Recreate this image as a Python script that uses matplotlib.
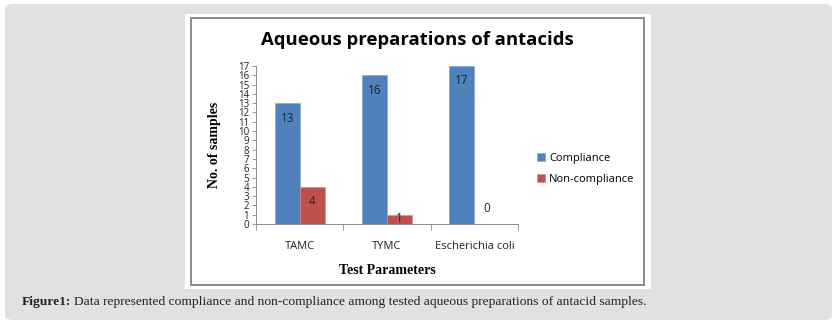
import numpy as np
import matplotlib.pyplot as plt
from matplotlib.patches import FancyBboxPatch, Rectangle

# chart data
categories = ["TAMC", "TYMC", "Escherichia coli"]
compliance = [13, 16, 17]
non_compliance = [4, 1, 0]
series_names = ["Compliance", "Non-compliance"]
y_ticks = list(range(0, 18))

BLUE = "#4F81BD"
RED = "#C0504D"
W, H = 839, 325

fig = plt.figure(figsize=(W / 100, H / 100), dpi=100)
fig.patch.set_facecolor("white")


def fx(px):
    return px / W


def fy(py):
    return 1 - py / H


# grey rounded page panel
panel = FancyBboxPatch((fx(5), fy(320)), fx(827), (316) / H,
                       boxstyle="round,pad=0,rounding_size=0.012",
                       transform=fig.transFigure, facecolor="#e1e1e1",
                       edgecolor="none", zorder=0)
fig.patches.append(panel)

# white chart box with grey inner border
fig.patches.append(Rectangle((fx(185), fy(289)), fx(466), 275 / H,
                             transform=fig.transFigure, facecolor="white",
                             edgecolor="none", zorder=1))
fig.patches.append(Rectangle((fx(190.5), fy(285)), fx(453.5), 267 / H,
                             transform=fig.transFigure, facecolor="none",
                             edgecolor="#8a8a8a", lw=1.4, zorder=2))

ax = fig.add_axes([fx(256), fy(224), fx(518 - 256), (224 - 66) / H])
ax.set_facecolor("none")
ax.set_zorder(3)

x = np.arange(len(categories))
bw = 1 / 3.5
b1 = ax.bar(x - bw / 2, compliance, bw, color=BLUE, label=series_names[0],
            edgecolor="#7fa3d0", linewidth=0.4)
b2 = ax.bar(x + bw / 2, non_compliance, bw, color=RED, label=series_names[1],
            edgecolor="#d98c8a", linewidth=0.4)

ax.set_xlim(-0.5, len(categories) - 0.5)
ax.set_ylim(0, 17)
ax.set_yticks(y_ticks)
ax.set_yticklabels([str(t) for t in y_ticks], fontsize=7, color="#222222",
                   family="Open Sans")
ax.tick_params(axis="y", length=3, width=0.6, color="#8a8a8a", pad=2)

# category separators as minor ticks; labels at centers
ax.set_xticks(x)
ax.set_xticklabels(categories, fontsize=8, family="Open Sans", color="#222222")
ax.tick_params(axis="x", which="major", length=0, pad=12)
ax.set_xticks(np.arange(len(categories) + 1) - 0.5, minor=True)
ax.tick_params(axis="x", which="minor", length=4, width=0.6, color="#8a8a8a")

for s in ["top", "right"]:
    ax.spines[s].set_visible(False)
for s in ["left", "bottom"]:
    ax.spines[s].set_color("#8a8a8a")
    ax.spines[s].set_linewidth(0.7)

# data labels (inside end, pushed up when the bar is too short)
px_per_unit = (224 - 66) / 17
for bars, vals in ((b1, compliance), (b2, non_compliance)):
    for rect, v in zip(bars, vals):
        cx = rect.get_x() + rect.get_width() / 2
        if v == 0:
            ly = 15 / px_per_unit
        else:
            ly = max(v - 15 / px_per_unit, 6 / px_per_unit)
        ax.text(cx, ly, str(v), ha="center", va="center", fontsize=8.5,
                family="Open Sans", color="#222222")

ax.set_xlabel("Test Parameters", family="Liberation Serif", fontweight="bold",
              fontsize=10, labelpad=9)
ax.set_ylabel("No. of samples", family="Liberation Serif", fontweight="bold",
              fontsize=10, labelpad=12)

fig.text(fx(417), fy(40), "Aqueous preparations of antacids", ha="center",
         va="center", fontsize=13.3, fontweight="bold", family="Open Sans",
         zorder=4)

leg = fig.legend(handles=[b1, b2], loc="center left",
                 bbox_to_anchor=(fx(527), fy(169)), frameon=False,
                 handlelength=0.7, handleheight=0.7,
                 handletextpad=0.4, labelspacing=0.9,
                 prop={"family": "Open Sans", "size": 8})
leg.set_zorder(4)

# caption
cap1 = fig.text(fx(22), fy(302), "Figure1:", ha="left", va="center",
                fontsize=9.7, fontweight="bold", family="Liberation Serif",
                color="#222222", zorder=4)
fig.canvas.draw()
bb = cap1.get_window_extent()
fig.text(bb.x1 / W + fx(3), fy(302),
         "Data represented compliance and non-compliance among tested aqueous "
         "preparations of antacid samples.", ha="left", va="center",
         fontsize=9.7, family="Liberation Serif", color="#222222", zorder=4)

fig.savefig("out.png", dpi=100, facecolor="white")
